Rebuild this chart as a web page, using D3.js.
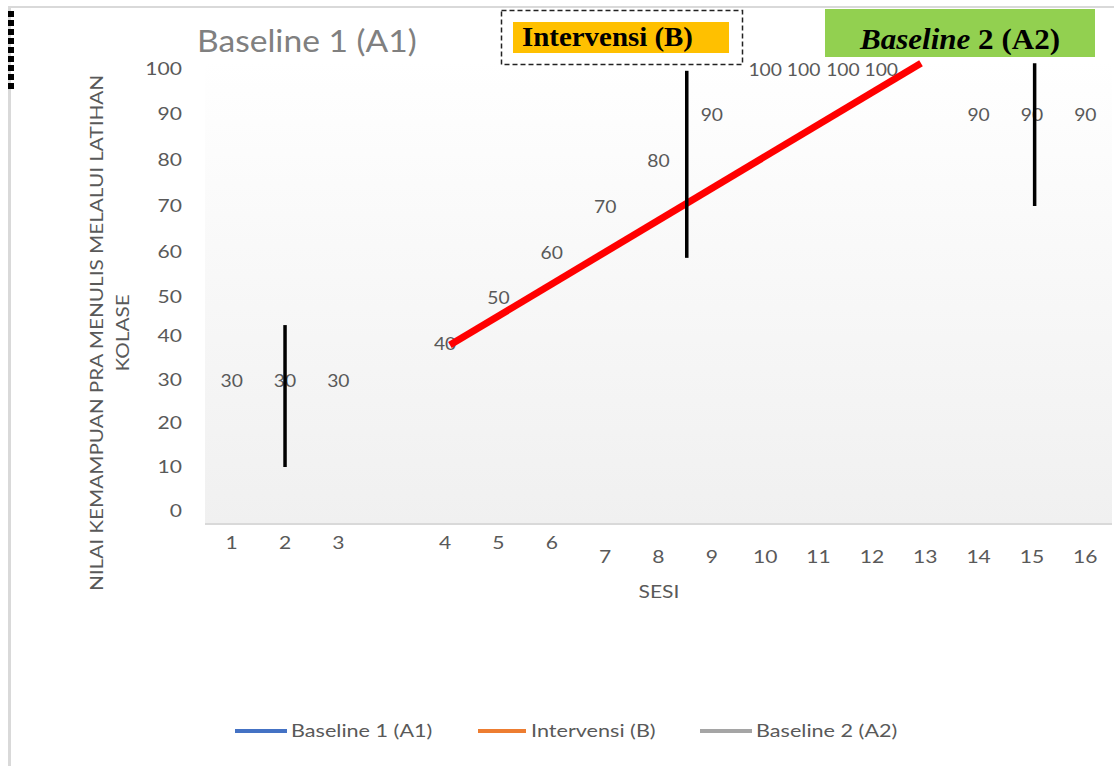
<!DOCTYPE html>
<html><head><meta charset="utf-8">
<script src="https://cdn.jsdelivr.net/npm/d3@7"></script>
<style>body{margin:0;background:#fff;}svg{display:block;font-family:Lato,"Open Sans",sans-serif;}</style>
</head><body>
<svg id="c" width="1114" height="766"></svg>
<script>
// ---- data ----
const categories = ["1","2","3","","4","5","6","7","8","9","10","11","12","13","14","15","16"];
const baseline1Sessions = [1,2,3];
const baseline1Values = [30,30,30];
const intervensiSessions = [4,5,6,7,8,9,10,11,12,13];
const intervensiValues = [40,50,60,70,80,90,100,100,100,100];
const baseline2Sessions = [14,15,16];
const baseline2Values = [90,90,90];
const yTicks = [0,10,20,30,40,50,60,70,80,90,100];
const seriesNames = ["Baseline 1 (A1)","Intervensi (B)","Baseline 2 (A2)"];
const seriesColors = ["#4472C4","#ED7D31","#A5A5A5"];
// phase-change lines (session, from value, to value)
const phaseSessions = [2, 8.53, 15.05];
const phaseFrom = [10, 58.7, 70];
const phaseTo = [42.8, 99.6, 101.3];
// trend line (session, value)
const trendSessions = [4.09, 12.92];
const trendValues = [37.95, 101.3];

// ---- layout ----
const svg = d3.select("#c");
const W = 1114, H = 766;
const plotL = 205, plotR = 1112, plotB = 524, plotT = 60;
const x = d3.scaleBand().domain(categories).range([plotL, plotR]).padding(0);
const bw = x.bandwidth();
// the reference's value axis is slightly uneven; follow its tick positions
const y = d3.scaleLinear().domain(yTicks).range([511,467,423,380,336,297,252,206,160,114,69]);
const sessIndex = s => s <= 3 ? s - 1 : s;
const sx = s => plotL + (sessIndex(s) + 0.5) * bw;
const textCol = "#595959";
const FS = 18, STRETCH = 1.17;
function stretch(sel, f) {
  sel.each(function(){
    const l = this.getComputedTextLength();
    d3.select(this).attr("textLength", l*f).attr("lengthAdjust","spacingAndGlyphs");
  });
}

svg.append("rect").attr("width",W).attr("height",H).attr("fill","#fff");
// outer borders
svg.append("line").attr("x1",8).attr("x2",W).attr("y1",7).attr("y2",7).attr("stroke","#d9d9d9").attr("stroke-width",2);
svg.append("line").attr("x1",9.5).attr("x2",9.5).attr("y1",6).attr("y2",H).attr("stroke","#d9d9d9").attr("stroke-width",3);
svg.append("line").attr("x1",11).attr("x2",11).attr("y1",11).attr("y2",92).attr("stroke","#000").attr("stroke-width",6).attr("stroke-dasharray","6,3");

// plot background gradient
const defs = svg.append("defs");
const g = defs.append("linearGradient").attr("id","bg").attr("x1",0).attr("y1",0).attr("x2",0).attr("y2",1);
g.append("stop").attr("offset","0%").attr("stop-color","#ffffff");
g.append("stop").attr("offset","100%").attr("stop-color","#f0f0f0");
svg.append("rect").attr("x",plotL).attr("y",plotT).attr("width",plotR-plotL).attr("height",plotB-plotT).attr("fill","url(#bg)");
svg.append("line").attr("x1",plotL).attr("x2",plotR).attr("y1",plotB).attr("y2",plotB).attr("stroke","#d9d9d9").attr("stroke-width",2);

// y axis labels
stretch(svg.append("g").selectAll("text").data(yTicks).join("text")
  .attr("x",182).attr("y",d=>y(d)).attr("dy","0.35em").attr("text-anchor","end")
  .attr("font-size",FS).attr("fill",textCol).text(d=>d), STRETCH);

// x axis labels
stretch(svg.append("g").selectAll("text").data(categories.filter(c=>c!=="")).join("text")
  .attr("x",d=>x(d)+bw/2).attr("y",d=>(+d>=7?557:543)).attr("dy","0.35em").attr("text-anchor","middle")
  .attr("font-size",FS).attr("fill",textCol).text(d=>d), STRETCH);

stretch(svg.append("text").attr("x",659).attr("y",592).attr("dy","0.35em").attr("text-anchor","middle")
  .attr("font-size",FS).attr("fill",textCol).text("SESI"), STRETCH);
stretch(svg.append("text").attr("transform","translate(97,333) rotate(-90)").attr("dy","0.35em").attr("text-anchor","middle")
  .attr("font-size",FS).attr("fill",textCol).text("NILAI KEMAMPUAN PRA MENULIS MELALUI LATIHAN"), 1.15);
stretch(svg.append("text").attr("transform","translate(123,333) rotate(-90)").attr("dy","0.35em").attr("text-anchor","middle")
  .attr("font-size",FS).attr("fill",textCol).text("KOLASE"), 1.15);

// data labels
const labelNudgeX = {11:-15, 12:-29, 13:-44};
const labelNudgeY = {4:7};
const allPts = [];
baseline1Sessions.forEach((s,i)=>allPts.push({s, v:baseline1Values[i]}));
intervensiSessions.forEach((s,i)=>allPts.push({s, v:intervensiValues[i]}));
baseline2Sessions.forEach((s,i)=>allPts.push({s, v:baseline2Values[i]}));
stretch(svg.append("g").selectAll("text").data(allPts).join("text")
  .attr("x",d=>sx(d.s)+(labelNudgeX[d.s]||0)).attr("y",d=>y(d.v)+1+(labelNudgeY[d.s]||0)).attr("dy","0.35em").attr("text-anchor","middle")
  .attr("font-size",FS).attr("fill",textCol).text(d=>d.v), 1.07);

// trend line
svg.append("line").attr("x1",sx(trendSessions[0])).attr("y1",y(trendValues[0]))
  .attr("x2",sx(trendSessions[1])).attr("y2",y(trendValues[1]))
  .attr("stroke","#ff0000").attr("stroke-width",7);

// phase lines
svg.append("g").selectAll("line").data(phaseSessions).join("line")
  .attr("x1",d=>sx(d)).attr("x2",d=>sx(d))
  .attr("y1",(d,i)=>y(phaseTo[i])).attr("y2",(d,i)=>y(phaseFrom[i]))
  .attr("stroke","#000").attr("stroke-width",3.5);

// title-like annotations
stretch(svg.append("text").attr("x",197).attr("y",52).attr("font-size",30).attr("fill","#808080").text("Baseline 1 (A1)"), 1.12);

svg.append("rect").attr("x",501.5).attr("y",10.5).attr("width",241).attr("height",54)
  .attr("fill","#fff").attr("stroke","#222").attr("stroke-width",1.5).attr("stroke-dasharray","5,3");
svg.append("rect").attr("x",513).attr("y",22).attr("width",216).attr("height",31).attr("fill","#FFC000");
svg.append("text").attr("x",522).attr("y",46).attr("font-family","'Liberation Serif',serif").attr("font-size",27)
  .attr("font-weight","bold").attr("fill","#000").attr("textLength",171).attr("lengthAdjust","spacingAndGlyphs").text("Intervensi (B)");

svg.append("rect").attr("x",825).attr("y",9).attr("width",270).attr("height",48).attr("fill","#92D050");
const t2 = svg.append("text").attr("x",860).attr("y",49).attr("font-family","'Liberation Serif',serif").attr("font-size",30)
  .attr("font-weight","bold").attr("fill","#000").attr("textLength",200).attr("lengthAdjust","spacingAndGlyphs");
t2.append("tspan").attr("font-style","italic").text("Baseline");
t2.append("tspan").text(" 2 (A2)");

// legend
const legX = [235, 478, 700];
const lg = svg.append("g").selectAll("g").data(seriesNames).join("g");
lg.append("line").attr("x1",(d,i)=>legX[i]).attr("x2",(d,i)=>legX[i]+(i===1?48:52)).attr("y1",731).attr("y2",731)
  .attr("stroke",(d,i)=>seriesColors[i]).attr("stroke-width",4);
stretch(lg.append("text").attr("x",(d,i)=>legX[i]+(i===1?53:56)).attr("y",731).attr("dy","0.35em").attr("font-size",FS)
  .attr("fill",textCol).text(d=>d), 1.2);
</script>
</body></html>
